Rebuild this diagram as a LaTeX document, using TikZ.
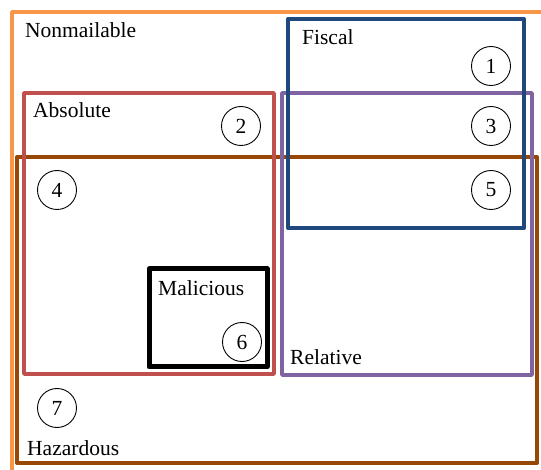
\documentclass[tikz,border=0pt]{standalone}
\usepackage{fontspec}
\setmainfont{Liberation Serif}
\usetikzlibrary{positioning}
\definecolor{snonm}{HTML}{F79646}
\definecolor{sfisc}{HTML}{1F497D}
\definecolor{sabs}{HTML}{C0504D}
\definecolor{srel}{HTML}{8064A2}
\definecolor{shaz}{HTML}{974706}
\tikzset{
  % insieme (rettangolo)
  setbox/.style={line width=3.6pt, line join=round},
  % etichetta di un insieme
  setlbl/.style={anchor=base west, inner sep=0pt, font=\fontsize{21.5}{24}\selectfont},
  % regione numerata
  region/.style={circle, draw, line width=0.9pt, minimum size=39pt, inner sep=0pt,
    font=\fontsize{21.5}{24}\selectfont},
}
\begin{document}
\begin{tikzpicture}[x=1pt, y=-1pt]
  \useasboundingbox (0,0) rectangle (541,470);
  \clip (0,0) rectangle (541,470);
  \draw[setbox, snonm] (12,12) rectangle (570,500);
  \draw[setbox, shaz, line width=4pt] (17,157) rectangle (537,463);
  \draw[setbox, sabs] (24,93) rectangle (274,374);
  \draw[setbox, srel] (282,93) rectangle (532,375);
  \draw[setbox, sfisc, line width=4pt] (288,19) rectangle (524,228);
  \draw[setbox, black, line width=5pt] (149,269) rectangle (267,367);
  \node[setlbl] (nonm) at (25,38) {Nonmailable};
  \node[setlbl] (fisc) at (302,45) {Fiscal};
  \node[setlbl] (abs) at (33,118) {Absolute};
  \node[setlbl] (rel) at (290,365) {Relative};
  \node[setlbl] (haz) at (27,455) {Hazardous};
  \node[setlbl] (mal) at (158,296) {Malicious};
  \foreach \n/\x/\y in {1/491/66, 2/241/126, 3/491/126, 4/57/190, 5/491/190, 6/242/342, 7/57/408}
    \node[region] (r\n) at (\x,\y) {\n};
\end{tikzpicture}
\end{document}
